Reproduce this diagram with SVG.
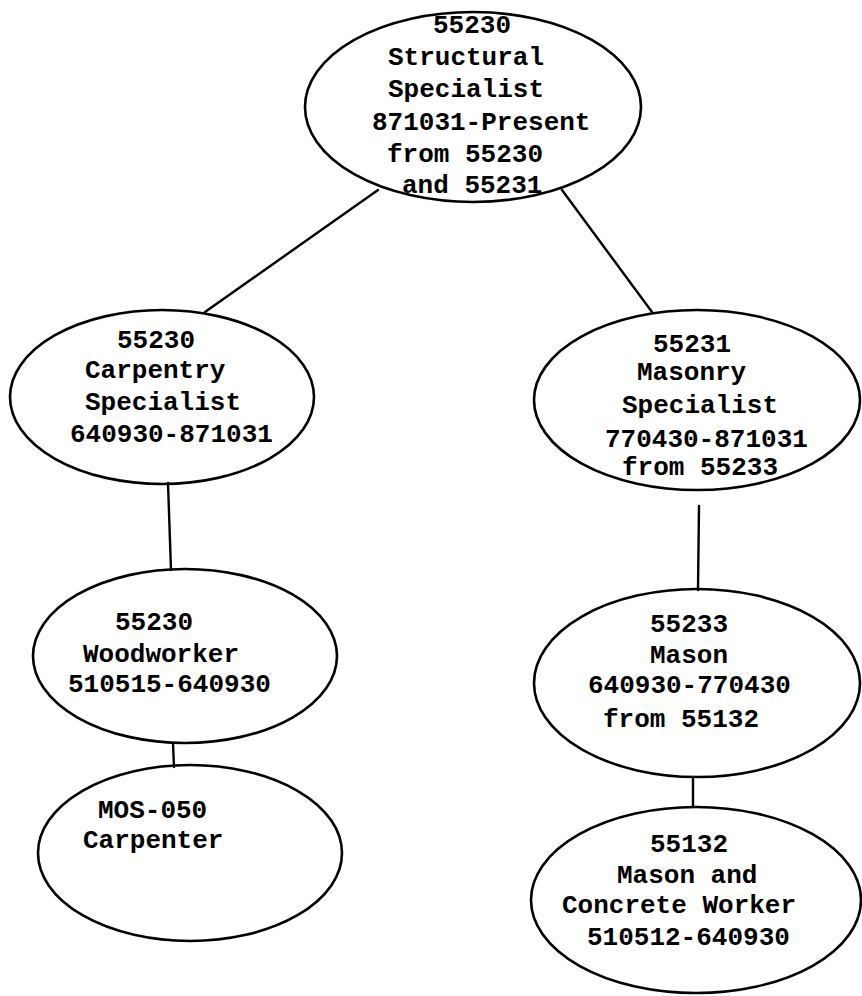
<svg xmlns="http://www.w3.org/2000/svg" width="862" height="996" viewBox="0 0 862 996">
<style>
.n ellipse{fill:none;stroke:#000;stroke-width:2.6}
.n text{font-family:"Liberation Mono","DejaVu Sans Mono",monospace;font-weight:bold;font-size:26px;fill:#000}
#edges line{stroke:#000;stroke-width:2.4;stroke-linecap:round}
</style>
<rect width="862" height="996" fill="#fff"/>
<g id="edges">
<line x1="378" y1="190" x2="205" y2="312"/>
<line x1="562" y1="190" x2="652" y2="312"/>
<line x1="168" y1="483" x2="171" y2="570"/>
<line x1="699" y1="506" x2="698" y2="590"/>
<line x1="173" y1="743" x2="174" y2="767"/>
<line x1="693" y1="779" x2="693" y2="807"/>
</g>
<g id="n55230-structural" class="n">
<ellipse cx="473" cy="107" rx="168" ry="95"/>
<text x="433" y="33">55230</text>
<text x="388" y="65">Structural</text>
<text x="388" y="97">Specialist</text>
<text x="372" y="130">871031-Present</text>
<text x="387" y="162">from 55230</text>
<text x="402" y="193">and 55231</text>
</g>
<g id="n55230-carpentry" class="n">
<ellipse cx="162" cy="397" rx="152" ry="87"/>
<text x="117" y="348">55230</text>
<text x="85" y="378">Carpentry</text>
<text x="85" y="410">Specialist</text>
<text x="70" y="442">640930-871031</text>
</g>
<g id="n55231-masonry" class="n">
<ellipse cx="697" cy="400" rx="163" ry="90"/>
<text x="653" y="352">55231</text>
<text x="637" y="380">Masonry</text>
<text x="622" y="413">Specialist</text>
<text x="605" y="447">770430-871031</text>
<text x="622" y="475">from 55233</text>
</g>
<g id="n55230-woodworker" class="n">
<ellipse cx="185" cy="656" rx="152" ry="87"/>
<text x="115" y="630">55230</text>
<text x="83" y="662">Woodworker</text>
<text x="68" y="692">510515-640930</text>
</g>
<g id="n55233-mason" class="n">
<ellipse cx="697" cy="683" rx="163" ry="94"/>
<text x="650" y="632">55233</text>
<text x="650" y="663">Mason</text>
<text x="588" y="693">640930-770430</text>
<text x="603" y="727">from 55132</text>
</g>
<g id="mos050-carpenter" class="n">
<ellipse cx="190" cy="853" rx="152" ry="88"/>
<text x="98" y="818">MOS-050</text>
<text x="83" y="848">Carpenter</text>
</g>
<g id="n55132-mason-concrete" class="n">
<ellipse cx="696" cy="900" rx="165" ry="93"/>
<text x="650" y="852">55132</text>
<text x="617" y="883">Mason and</text>
<text x="562" y="913">Concrete Worker</text>
<text x="587" y="945">510512-640930</text>
</g>
</svg>
